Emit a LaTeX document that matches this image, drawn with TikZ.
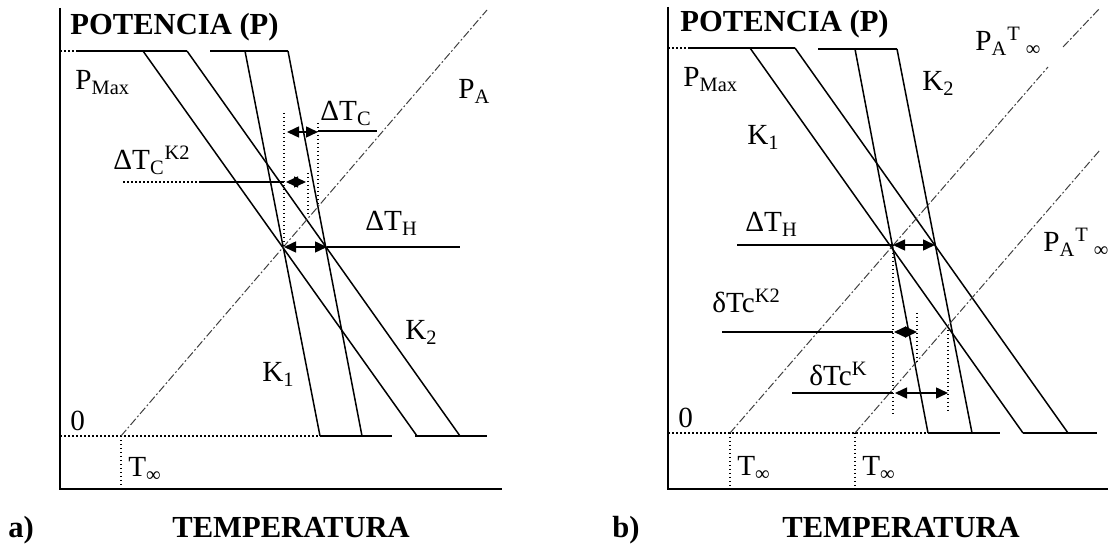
\documentclass[tikz,border=0pt]{standalone}
\usepackage{fontspec}
\setmainfont{Liberation Serif}
\usetikzlibrary{arrows.meta}

\begin{document}
\begin{tikzpicture}[
  x=0.5pt, y=-0.5pt,
  axis/.style={line width=1pt},
  kline/.style={line width=0.75pt},
  pline/.style={line width=0.5pt, black!75, dash pattern=on 4pt off 1.2pt on 0.9pt off 1.2pt},
  guide/.style={line width=0.75pt, dash pattern=on 0.75pt off 1.25pt},
  dim/.style={line width=0.75pt, {Triangle[length=6pt,width=5.5pt]}-{Triangle[length=6pt,width=5.5pt]}},
  lbl/.style={inner sep=0pt, anchor=base west, font=\fontsize{14.6}{17}\selectfont},
  ttl/.style={inner sep=0pt, anchor=base west, font=\fontsize{15.3}{18}\selectfont\bfseries},
]
\useasboundingbox (0,0) rectangle (1108,544);

% ---------------- a) ----------------
\coordinate (aO) at (60,489);
\draw[axis] (60,8) -- (aO) -- (502,489);
\node[ttl] (atitle) at (70,35) {POTENCIA (P)};
\node[ttl] (axlab) at (172,538) {TEMPERATURA};
\node[ttl] (atag) at (8,538) {a)};

\draw[guide] (60,51) -- (78,51);
\draw[kline] (78,51) -- (187,51);
\draw[kline] (210,51) -- (288,51);
\draw[guide] (60,436) -- (320,436);
\draw[kline] (320,436) -- (392,436);
\draw[kline] (415,436) -- (487,436);

\draw[kline] (143,51) -- (417,436);
\draw[kline] (187,51) -- (460,436);
\draw[kline] (245,51) -- (320,436);
\draw[kline] (288,51) -- (362,436);

\coordinate (aTinf) at (121,436);
\draw[pline] (aTinf) -- (487,10);
\draw[guide] (aTinf) -- (121,489);

% dimensions
\coordinate (aX1) at (284,247);
\coordinate (aX2) at (327,247);
\draw[guide] (284,113) -- (aX1);
\draw[guide] (318,123) -- (318,205);
\draw[guide] (308,173) -- (308,217);
\draw[dim] (287,132) -- (318,132);
\draw[kline] (318,131) -- (377,131);
\draw[guide] (123,182) -- (200,182);
\draw[kline] (200,182) -- (284,182);
\draw[dim] (286,182) -- (306,182);
\draw[dim] (aX1) -- (aX2);
\draw[kline] (aX2) -- (460,247);

\node[lbl] (apmax) at (75,90) {P\textsubscript{Max}};
\node[lbl] (apa) at (458,99) {P\textsubscript{A}};
\node[lbl] (adtc) at (320,121) {ΔT\textsubscript{C}};
\node[lbl] (adtck) at (113,170) {ΔT\textsubscript{C}\textsuperscript{K2}};
\node[lbl] (adth) at (365,231) {ΔT\textsubscript{H}};
\node[lbl] (ak2) at (405,340) {K\textsubscript{2}};
\node[lbl] (ak1) at (262,382) {K\textsubscript{1}};
\node[lbl] (azero) at (70,431) {0};
\node[lbl] (atinf) at (128,477) {T\textsubscript{∞}};

% ---------------- b) ----------------
\coordinate (bO) at (668,489);
\draw[axis] (668,7) -- (bO) -- (1108,489);
\node[ttl] (btitle) at (680,32) {POTENCIA (P)};
\node[ttl] (bxlab) at (782,538) {TEMPERATURA};
\node[ttl] (btag) at (612,538) {b)};

\draw[guide] (668,48) -- (688,48);
\draw[kline] (688,48) -- (795,48);
\draw[kline] (818,49) -- (897,49);
\draw[guide] (668,433) -- (928,433);
\draw[kline] (928,433) -- (1000,433);
\draw[kline] (1023,433) -- (1097,433);

\draw[kline] (750,48) -- (1023,433);
\draw[kline] (795,48) -- (1068,433);
\draw[kline] (855,49) -- (928,433);
\draw[kline] (897,49) -- (972,433);

\coordinate (bTinf1) at (730,433);
\coordinate (bTinf2) at (855,433);
\draw[pline] (bTinf1) -- (1048,67);
\draw[pline] (1063,47) -- (1100,8);
\draw[pline] (bTinf2) -- (1100,150);
\draw[guide] (bTinf1) -- (730,489);
\draw[guide] (bTinf2) -- (855,489);

% dimensions
\coordinate (bX1) at (893,245);
\coordinate (bX2) at (935,245);
\draw[guide] (bX1) -- (893,415);
\draw[guide] (917,313) -- (917,362);
\draw[guide] (948,330) -- (948,413);
\draw[kline] (737,245) -- (bX1);
\draw[dim] (bX1) -- (bX2);
\draw[kline] (722,332) -- (893,332);
\draw[dim] (894,332) -- (917,332);
\draw[kline] (792,393) -- (893,393);
\draw[dim] (895,393) -- (948,393);

\node[lbl] (bpmax) at (683,87) {P\textsubscript{Max}};
\node[lbl] (bk1) at (747,145) {K\textsubscript{1}};
\node[lbl] (bk2) at (922,91) {K\textsubscript{2}};
\node[lbl] (bpa1) at (975,51) {P\textsubscript{A}\textsuperscript{T}\,\textsubscript{∞}};
\node[lbl] (bpa2) at (1043,252) {P\textsubscript{A}\textsuperscript{T}\,\textsubscript{∞}};
\node[lbl] (bdth) at (745,232) {ΔT\textsubscript{H}};
\node[lbl] (bdtck2) at (712,313) {δTc\textsuperscript{K2}};
\node[lbl] (bdtck) at (809,386) {δTc\textsuperscript{K}};
\node[lbl] (bzero) at (678,428) {0};
\node[lbl] (btinf1) at (737,476) {T\textsubscript{∞}};
\node[lbl] (btinf2) at (862,476) {T\textsubscript{∞}};
\end{tikzpicture}
\end{document}
